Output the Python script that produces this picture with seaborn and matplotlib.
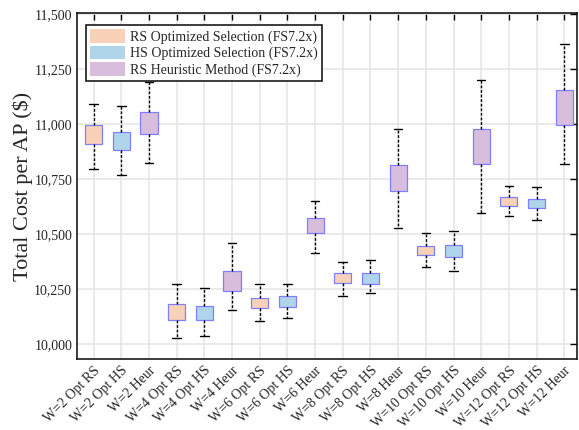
import numpy as np
import pandas as pd
import matplotlib
matplotlib.use('Agg')
import matplotlib.pyplot as plt
import seaborn as sns
from matplotlib.ticker import FuncFormatter

# categories and box statistics
labels = ['W=2 Opt RS', 'W=2 Opt HS', 'W=2 Heur',
          'W=4 Opt RS', 'W=4 Opt HS', 'W=4 Heur',
          'W=6 Opt RS', 'W=6 Opt HS', 'W=6 Heur',
          'W=8 Opt RS', 'W=8 Opt HS', 'W=8 Heur',
          'W=10 Opt RS', 'W=10 Opt HS', 'W=10 Heur',
          'W=12 Opt RS', 'W=12 Opt HS', 'W=12 Heur']
methods = ['RS Optimized Selection (FS7.2x)',
           'HS Optimized Selection (FS7.2x)',
           'RS Heuristic Method (FS7.2x)']

w_low = [10794, 10768, 10824, 10029, 10038, 10153, 10105, 10118, 10412,
         10220, 10230, 10526, 10350, 10330, 10594, 10583, 10564, 10820]
q1 = [10909, 10880, 10955, 10108, 10108, 10241, 10162, 10170, 10505,
      10276, 10273, 10695, 10406, 10398, 10818, 10627, 10617, 10994]
median = [10950, 10920, 11000, 10145, 10140, 10285, 10185, 10195, 10540,
          10300, 10298, 10755, 10428, 10424, 10895, 10647, 10638, 11070]
q3 = [10994, 10962, 11053, 10180, 10171, 10332, 10209, 10217, 10574,
      10321, 10321, 10815, 10447, 10450, 10976, 10667, 10658, 11153]
w_high = [11089, 11080, 11189, 10274, 10253, 10458, 10271, 10274, 10649,
          10374, 10382, 10979, 10506, 10515, 11199, 10720, 10715, 11364]

colors = ['#F9D0B8', '#B0D4EA', '#D8BEDC']

sns.set_style('white')
plt.rcParams['font.family'] = ['Liberation Serif', 'DejaVu Serif']

rows = []
for i, lab in enumerate(labels):
    for v in (w_low[i], q1[i], median[i], q3[i], w_high[i]):
        rows.append({'config': lab, 'method': methods[i % 3], 'cost': v})
df = pd.DataFrame(rows)

fig = plt.figure(figsize=(5.79, 4.30), dpi=100)
ax = fig.add_axes([0.133, 0.165, 0.864, 0.805])

sns.boxplot(data=df, x='config', y='cost', hue='method', order=labels,
            hue_order=methods, palette=colors, dodge=False, width=0.62,
            whis=(0, 100), saturation=1, linewidth=0.9, ax=ax,
            boxprops=dict(edgecolor='#8080ff'),
            medianprops=dict(linewidth=0),
            whiskerprops=dict(color='black', linestyle=(0, (2.0, 1.3)), linewidth=1.0),
            capprops=dict(color='black', linewidth=1.0))

ax.set_xlim(-0.6, 17.47)
ax.set_ylim(9932, 11505)
ax.set_yticks(np.arange(10000, 11501, 250))
ax.yaxis.set_major_formatter(FuncFormatter(lambda v, p: f'{int(v):,}'))
ax.set_xlabel('')
ax.set_ylabel('Total Cost per AP ($)', fontsize=16, labelpad=1)
ax.set_xticks(range(len(labels)))
ax.set_xticklabels(labels, rotation=45, ha='right', rotation_mode='anchor', fontsize=10)
ax.tick_params(axis='y', labelsize=10)
ax.tick_params(direction='in', length=5, width=1.0, top=True, right=True,
               color='black')
ax.grid(True, color='#e6e6e6', linewidth=1.2)
ax.set_axisbelow(True)
for s in ax.spines.values():
    s.set_visible(True)
    s.set_color('#1a1a1a')
    s.set_linewidth(1.2)

leg = ax.legend(loc='upper left', fontsize=10, handlelength=2.5, handleheight=1.1,
                borderpad=0.3, labelspacing=0.15, handletextpad=0.35,
                fancybox=False, edgecolor='#1a1a1a', framealpha=1,
                bbox_to_anchor=(0.004, 0.985))
leg.get_frame().set_linewidth(1.2)
for h in leg.legend_handles:
    h.set_edgecolor('none')

fig.savefig('out.png', dpi=100)
